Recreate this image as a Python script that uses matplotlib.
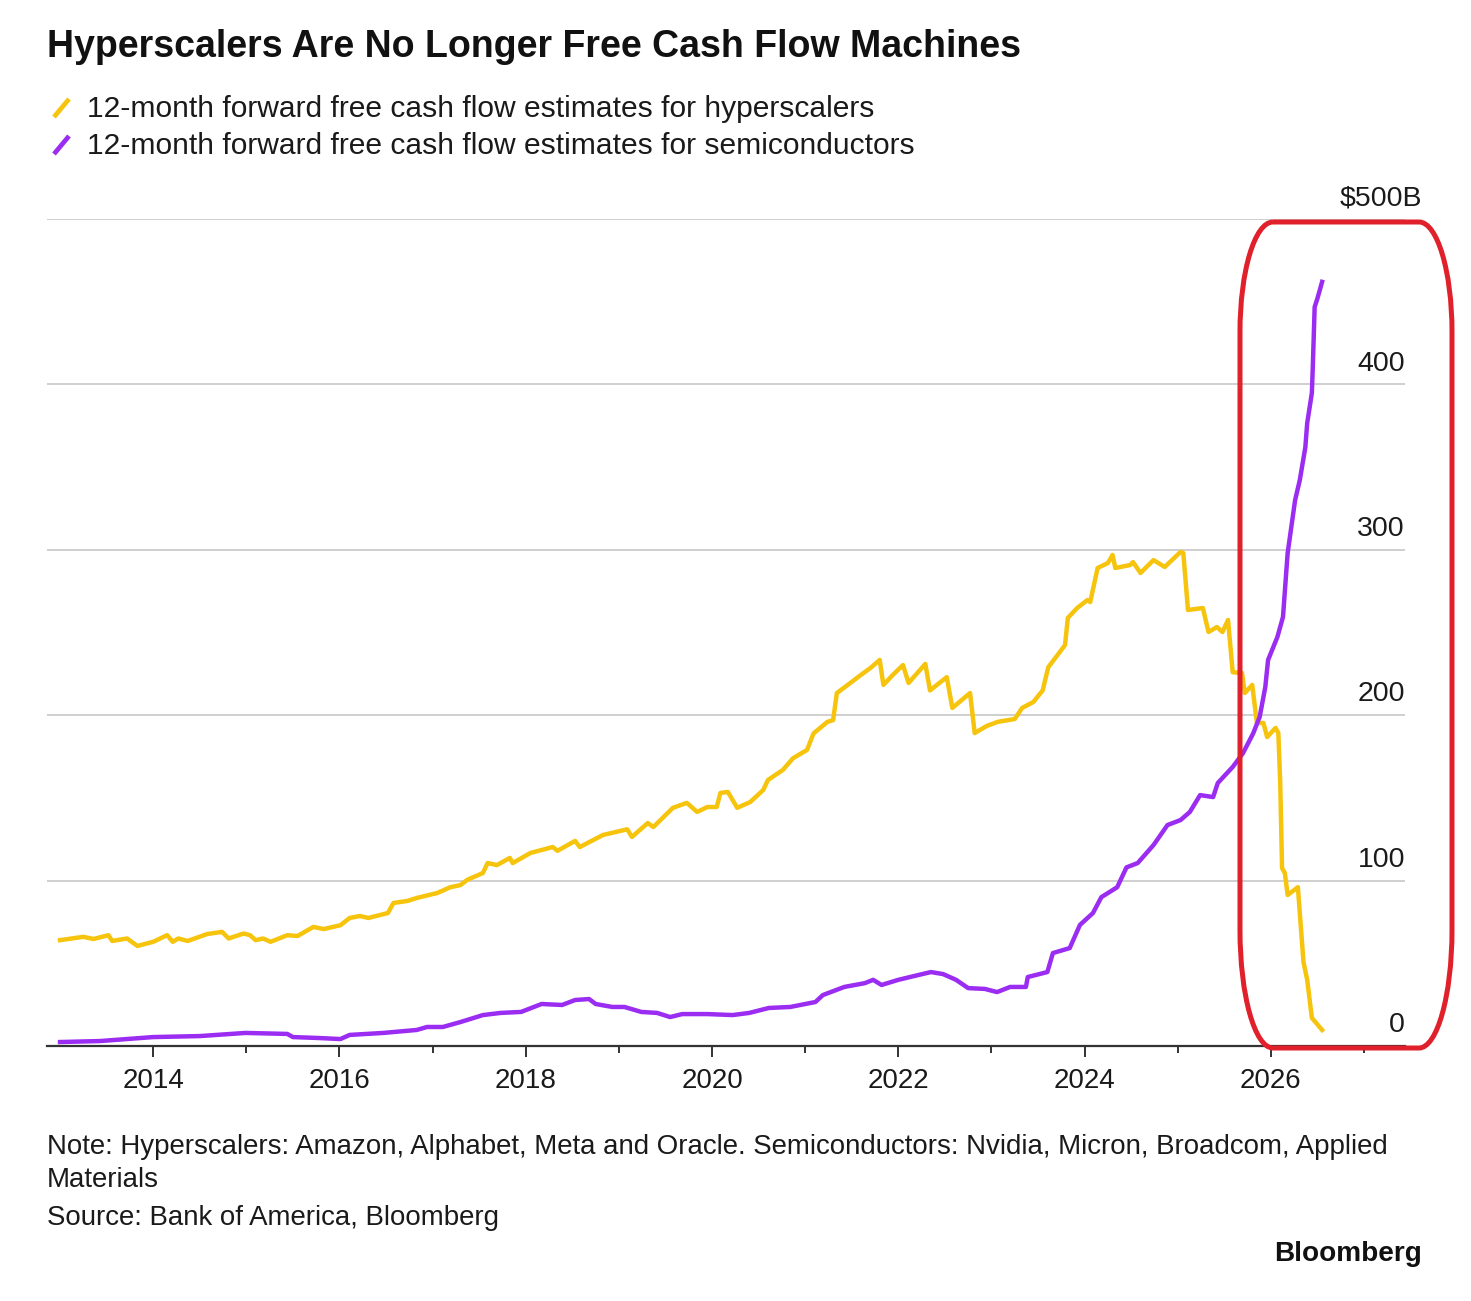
import matplotlib
matplotlib.use("Agg")
import matplotlib.pyplot as plt
from matplotlib.path import Path
from matplotlib.patches import PathPatch
from matplotlib.lines import Line2D
import numpy as np

plt.rcParams['font.family'] = ['Liberation Sans', 'DejaVu Sans']

# ---------------- data ----------------
hyper_years = [2013.00, 2013.25, 2013.36, 2013.52, 2013.56, 2013.72, 2013.83, 2014.00, 2014.15, 2014.21,
               2014.27, 2014.37, 2014.58, 2014.74, 2014.81, 2014.97, 2015.04, 2015.10, 2015.18, 2015.26,
               2015.44, 2015.55, 2015.72, 2015.83, 2016.01, 2016.11, 2016.22, 2016.31, 2016.52, 2016.58,
               2016.73, 2016.83, 2017.05, 2017.19, 2017.30, 2017.37, 2017.54, 2017.59, 2017.69, 2017.83,
               2017.86, 2018.05, 2018.29, 2018.34, 2018.53, 2018.58, 2018.83, 2019.09, 2019.14, 2019.31,
               2019.37, 2019.58, 2019.73, 2019.84, 2019.95, 2020.05, 2020.09, 2020.17, 2020.27, 2020.41,
               2020.55, 2020.60, 2020.76, 2020.87, 2021.02, 2021.09, 2021.24, 2021.30, 2021.34, 2021.45,
               2021.59, 2021.70, 2021.80, 2021.84, 2021.94, 2022.05, 2022.11, 2022.29, 2022.34, 2022.52,
               2022.58, 2022.77, 2022.82, 2022.95, 2023.07, 2023.25, 2023.33, 2023.45, 2023.55, 2023.61,
               2023.79, 2023.82, 2023.92, 2024.03, 2024.06, 2024.14, 2024.25, 2024.30, 2024.33, 2024.49,
               2024.52, 2024.60, 2024.74, 2024.86, 2025.03, 2025.06, 2025.11, 2025.27, 2025.33, 2025.42,
               2025.48, 2025.54, 2025.59, 2025.69, 2025.72, 2025.80, 2025.85, 2025.92, 2025.96, 2026.05,
               2026.08, 2026.10, 2026.12, 2026.15, 2026.18, 2026.29, 2026.35, 2026.39, 2026.44, 2026.55]
hyper_fcf = [64, 66, 64.7, 67, 63.5, 65, 60.5, 63, 67, 63,
             65, 63.5, 67.7, 69, 65, 68, 67, 64, 65, 63,
             67, 66.5, 72, 70.7, 73, 77.4, 78.6, 77.4, 80.4, 86.5,
             87.7, 89.5, 92.5, 96, 97.3, 100.4, 104.6, 110.6, 109.4, 113.7,
             110.6, 116.7, 120.3, 118, 124, 120.3, 127.6, 131, 126.4, 134.8,
             132.4, 144, 147, 141.5, 144.5, 144.5, 153, 153.6, 144, 147.5,
             154.8, 160.8, 166.9, 174, 179, 189, 196, 197, 213.4, 218,
             224, 228.5, 233.4, 218.3, 224.3, 230.3, 219.5, 231, 215, 223,
             204.4, 213.4, 189.2, 193.5, 196, 197.7, 204.4, 208, 215, 229,
             242.4, 258.8, 264.8, 269.6, 268.4, 289, 292, 296.9, 289, 290.8,
             292.6, 286, 293.8, 289.6, 298.7, 298, 263.6, 264.8, 250.3, 253.3,
             250.3, 257.6, 226, 225.5, 213.4, 218.3, 195.3, 195.3, 186.8, 192.3,
             189.2, 160, 107.6, 104.6, 91.3, 96, 50.8, 40, 17, 9.7]

semi_years = [2013.00, 2013.43, 2014.00, 2014.50, 2014.99, 2015.44, 2015.50, 2015.79, 2016.01, 2016.11,
              2016.47, 2016.83, 2016.94, 2017.11, 2017.30, 2017.54, 2017.73, 2017.95, 2018.17, 2018.39,
              2018.53, 2018.68, 2018.75, 2018.93, 2019.06, 2019.24, 2019.41, 2019.55, 2019.68, 2019.95,
              2020.22, 2020.40, 2020.61, 2020.84, 2021.11, 2021.19, 2021.42, 2021.64, 2021.73, 2021.82,
              2022.00, 2022.17, 2022.35, 2022.48, 2022.62, 2022.75, 2022.93, 2023.06, 2023.20, 2023.37,
              2023.39, 2023.60, 2023.66, 2023.84, 2023.95, 2024.09, 2024.18, 2024.35, 2024.45, 2024.57,
              2024.74, 2024.89, 2025.03, 2025.13, 2025.24, 2025.38, 2025.43, 2025.59, 2025.70, 2025.81,
              2025.88, 2025.94, 2025.97, 2026.07, 2026.13, 2026.18, 2026.23, 2026.26, 2026.31, 2026.37,
              2026.39, 2026.44, 2026.45, 2026.47, 2026.50, 2026.55]
semi_fcf = [2.4, 3, 5.4, 6, 7.9, 7.3, 5.4, 4.8, 4.2, 6.7,
            7.9, 9.7, 11.5, 11.5, 14.5, 18.7, 20, 20.6, 25.4, 24.8,
            27.8, 28.4, 25.4, 23.6, 23.6, 20.6, 20, 17.5, 19.3, 19.3,
            18.7, 20, 23, 23.6, 26.6, 30.8, 35.7, 38, 40, 36.9,
            40, 42.3, 44.7, 43.5, 40, 35, 34.5, 32.6, 35.7, 35.7,
            41.7, 44.7, 56.2, 59.2, 73.2, 80.4, 90, 96, 108, 110.6,
            121.5, 133.6, 136.6, 141.5, 151.7, 150.5, 159, 168.7, 177, 189,
            199, 217, 233.4, 247.3, 259.4, 298, 318, 330, 342, 362,
            376.6, 394.8, 410.5, 446.8, 452, 462]

y_ticks = [0, 100, 200, 300, 400, 500]
y_labels = ["0", "100", "200", "300", "400", "$500B"]
x_major = [2014, 2016, 2018, 2020, 2022, 2024, 2026]
x_minor = [2015, 2017, 2019, 2021, 2023, 2025, 2027]

title = "Hyperscalers Are No Longer Free Cash Flow Machines"
legend_labels = ["12-month forward free cash flow estimates for hyperscalers",
                 "12-month forward free cash flow estimates for semiconductors"]
note_lines = ["Note: Hyperscalers: Amazon, Alphabet, Meta and Oracle. Semiconductors: Nvidia, Micron, Broadcom, Applied",
              "Materials",
              "Source: Bank of America, Bloomberg"]

YELLOW = "#F6C40C"
PURPLE = "#9B2CF2"
TEXT = "#1a1a1a"

# ---------------- layout ----------------
W, H = 1471, 1301
fig = plt.figure(figsize=(W / 100, H / 100), dpi=100)
fig.patch.set_facecolor("white")

def fx(px):
    return px / W

def fy(py):
    return 1 - py / H

ax_l, ax_r, ax_t, ax_b = 47, 1405, 219, 1046
ax = fig.add_axes([fx(ax_l), fy(ax_b), fx(ax_r) - fx(ax_l), fy(ax_t) - fy(ax_b)])
ax.set_xlim(2012.86, 2027.44)
ax.set_ylim(0, 500)

for v in y_ticks[1:]:
    ax.axhline(v, color="#cfcfcf", lw=1.4, zorder=1)

ax.plot(hyper_years, hyper_fcf, color=YELLOW, lw=3.2, solid_joinstyle="round", zorder=3, clip_on=False)
ax.plot(semi_years, semi_fcf, color=PURPLE, lw=3.2, solid_joinstyle="round", zorder=3, clip_on=False)

for s in ["top", "right", "left"]:
    ax.spines[s].set_visible(False)
ax.spines["bottom"].set_color("#333333")
ax.spines["bottom"].set_linewidth(1.6)
ax.spines["bottom"].set_zorder(4)

ax.set_yticks([])
ax.set_xticks(x_major)
ax.set_xticklabels([str(y) for y in x_major])
ax.set_xticks(x_minor, minor=True)
ax.tick_params(axis="x", which="major", length=8, width=1.4, color="#333333",
               labelsize=20, labelcolor=TEXT, pad=8)
ax.tick_params(axis="x", which="minor", length=5, width=1.4, color="#333333")

ytrans = ax.get_yaxis_transform()
for v, lab in zip(y_ticks, y_labels):
    dx = 12.5 if lab.endswith("B") else 0
    ax.annotate(lab, xy=(1.0, v), xycoords=ytrans, xytext=(dx, 15.0), textcoords="offset points",
                ha="right", va="center", fontsize=20.5, color=TEXT, annotation_clip=False)

# ---------------- texts ----------------
fig.text(fx(47), fy(47), title, fontsize=27, fontweight="bold", color="#111111", va="center", ha="left")

for i, (lab, col) in enumerate(zip(legend_labels, [YELLOW, PURPLE])):
    cy = 108 + i * 37
    fig.add_artist(Line2D([fx(54), fx(69)], [fy(cy + 9), fy(cy - 9)], color=col, lw=3.4,
                          solid_capstyle="butt", transform=fig.transFigure))
    fig.text(fx(87), fy(cy + 1), lab, fontsize=21.6, color=TEXT, va="center", ha="left")

for lab, cy in zip(note_lines, [1147, 1180, 1218]):
    fig.text(fx(47), fy(cy), lab, fontsize=19.9, color=TEXT, va="center", ha="left")

fig.text(fx(1422), fy(1254), "Bloomberg", fontsize=20.2, fontweight="bold", color="#111111",
         va="center", ha="right")

# ---------------- red highlight outline ----------------
x0, x1, y0, y1 = 1240, 1452, 222, 1048
rx, ry_t, ry_b = 33, 110, 118
k = 0.5523
pts = [
    (x0 + rx, y0), (x1 - rx, y0),
    (x1 - rx + k * rx, y0), (x1, y0 + ry_t - k * ry_t), (x1, y0 + ry_t),
    (x1, y1 - ry_b),
    (x1, y1 - ry_b + k * ry_b), (x1 - rx + k * rx, y1), (x1 - rx, y1),
    (x0 + rx, y1),
    (x0 + rx - k * rx, y1), (x0, y1 - ry_b + k * ry_b), (x0, y1 - ry_b),
    (x0, y0 + ry_t),
    (x0, y0 + ry_t - k * ry_t), (x0 + rx - k * rx, y0), (x0 + rx, y0),
]
codes = [Path.MOVETO, Path.LINETO,
         Path.CURVE4, Path.CURVE4, Path.CURVE4,
         Path.LINETO,
         Path.CURVE4, Path.CURVE4, Path.CURVE4,
         Path.LINETO,
         Path.CURVE4, Path.CURVE4, Path.CURVE4,
         Path.LINETO,
         Path.CURVE4, Path.CURVE4, Path.CURVE4]
path = Path([(fx(px), fy(py)) for px, py in pts], codes)
fig.add_artist(PathPatch(path, facecolor="none", edgecolor="#E0202A", lw=3.6,
                         transform=fig.transFigure, zorder=10))

fig.savefig("out.png", dpi=100, facecolor="white")
